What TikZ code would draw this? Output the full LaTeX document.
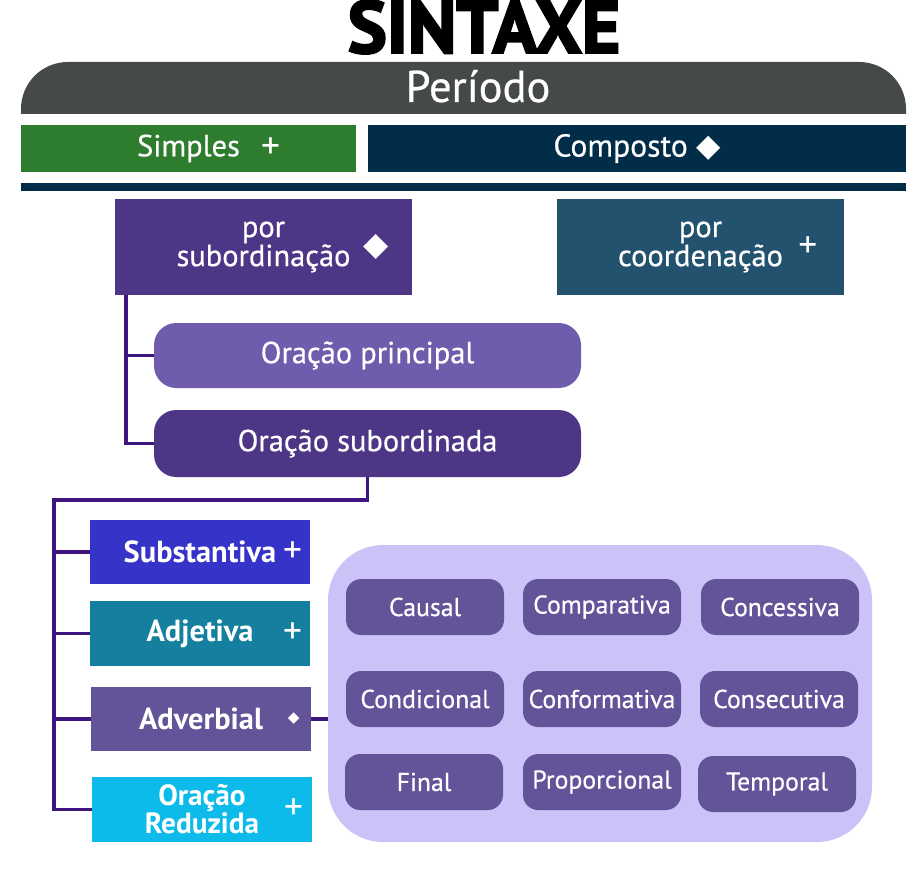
\documentclass[tikz,border=0pt]{standalone}
\usepackage{fontspec}
\setmainfont{PT Sans}
\newfontfamily\medio[FakeBold=0.5]{PT Sans}
\newfontfamily\pesado[FakeBold=3]{PT Sans}
\newfontfamily\simbolo{DejaVu Sans}
\usetikzlibrary{calc, positioning}
\newcommand{\pxu}{0.03cm}
\newcommand{\tam}[1]{\fontsize{#1}{#1}\selectfont}

\definecolor{cinza}{RGB}{70,74,71}
\definecolor{verde}{RGB}{46,124,46}
\definecolor{marinho}{RGB}{2,45,72}
\definecolor{roxoesc}{RGB}{78,54,134}
\definecolor{petroleo}{RGB}{35,82,110}
\definecolor{roxoclaro}{RGB}{112,92,173}
\definecolor{anil}{RGB}{53,51,200}
\definecolor{azulmar}{RGB}{20,127,158}
\definecolor{roxomed}{RGB}{99,84,154}
\definecolor{ciano}{RGB}{13,187,235}
\definecolor{lilas}{RGB}{203,194,247}
\definecolor{linha}{RGB}{62,22,128}

\tikzset{
  bx/.style 2 args={rectangle, minimum width=#1*\pxu, minimum height=#2*\pxu, inner sep=0pt, text=white, align=center},
  sinal/.style 2 args={label={[text=white, anchor=center, xshift=#1, font=\tam{32}]east:#2}},
  tipo/.style={bx={158}{56}, fill=roxomed, rounded corners=13pt, font=\medio\tam{22}},
  liga/.style={draw=linha, line width=3.4pt},
}

\begin{document}
\begin{tikzpicture}[x=0.03cm, y=-0.03cm]
  \useasboundingbox (0,0) rectangle (921,874);

  \node[inner sep=0pt, font=\pesado\bfseries\tam{63}] (titulo) at (484,27) {SINTAXE};

  % faixa do periodo
  \begin{scope}
    \clip (21,62) rectangle (906,114);
    \fill[cinza, rounded corners=40pt] (21,62) rectangle (906,170);
  \end{scope}
  \node[inner sep=0pt, text=white, font=\medio\tam{38}, anchor=base] (periodo) at (478,102) {Período};

  \node[bx={335}{47}, fill=verde, font=\medio\tam{26}, sinal={-73pt}{+}] (simples) at (188.5,148.5) {Simples};
  \node[bx={538}{47}, fill=marinho, font=\medio\tam{27}] (composto) at (637,148.5) {Composto {\simbolo\tam{27}◆}};
  \fill[marinho] (21,183) rectangle (906,191);

  \node[bx={297}{96}, fill=roxoesc, font=\medio\fontsize{26}{20}\selectfont,
        label={[text=white, anchor=center, xshift=-31pt, font=\simbolo\tam{28}]east:◆}] (sub) at (263.5,247) {por\\subordinação};
  \node[bx={287}{96}, fill=petroleo, font=\medio\fontsize{26}{20}\selectfont, sinal={-31pt}{+}] (coord) at (700.5,247) {por\\coordenação};

  \node[bx={427}{65}, fill=roxoclaro, rounded corners=19pt, font=\medio\tam{26}] (princ) at (367.5,355.5) {Oração principal};
  \node[bx={427}{67}, fill=roxoesc, rounded corners=19pt, font=\medio\tam{26}] (subd) at (367.5,443.5) {Oração subordinada};

  \node[bx={220}{64}, fill=anil, font=\bfseries\tam{26}, sinal={-15pt}{+}] (subst) at (200,552) {Substantiva};
  \node[bx={220}{65}, fill=azulmar, font=\bfseries\tam{26}, sinal={-15pt}{+}] (adje) at (200,633.5) {Adjetiva};
  \node[bx={220}{64}, fill=roxomed, font=\bfseries\tam{26},
        label={[text=white, anchor=center, xshift=-15pt, font=\simbolo\tam{13}]east:◆}] (adve) at (201,719) {Adverbial};
  \node[bx={220}{65}, fill=ciano, font=\bfseries\fontsize{25}{20}\selectfont, sinal={-16pt}{+}] (redu) at (202,809.5) {Oração\\Reduzida};

  \node[bx={544}{297}, fill=lilas, rounded corners=47pt] (painel) at (600,693.5) {};
  \foreach \nome/\txt/\cx/\cy in {causal/Causal/425/607, compar/Comparativa/602/607, conces/Concessiva/780/607,
      condic/Condicional/425/699, conform/Conformativa/602/699, consec/Consecutiva/779/699,
      final/Final/424/782, propor/Proporcional/602/782, tempo/Temporal/777/784}
    \node[tipo] (\nome) at (\cx,\cy) {\txt};

  % ligacoes
  \draw[liga] ($(sub.south west)+(11,0)$) |- (princ.west);
  \draw[liga] ($(sub.south west)+(11,0)$) |- (subd.west);
  \coordinate (tronco) at (54,500);
  \draw[liga] (subd.south) |- (tronco) |- (redu.west);
  \foreach \n in {subst,adje,adve}
    \draw[liga] (tronco |- \n.west) -- (\n.west);
  \draw[liga] (adve.east) -- (painel.west |- adve.east);
\end{tikzpicture}
\end{document}
